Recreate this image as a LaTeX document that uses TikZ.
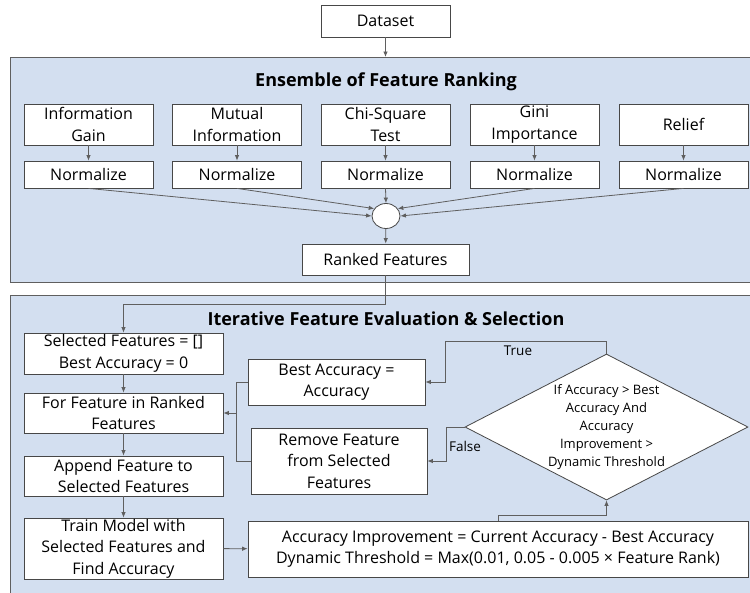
\documentclass[tikz,border=0pt]{standalone}
\usepackage{fontspec}
\setmainfont{Open Sans}
\usetikzlibrary{arrows.meta,shapes.geometric}
\definecolor{panelblue}{HTML}{D3DFF0}
\definecolor{edgegrey}{HTML}{5F5F5F}
\definecolor{boxgrey}{HTML}{474747}

\begin{document}
\begin{tikzpicture}[x=1pt,y=-1pt,
    box/.style={draw=boxgrey,fill=white,line width=0.8pt,inner sep=0pt,align=center,font=\fontsize{16}{21.5}\selectfont},
    panel/.style={draw=edgegrey,fill=panelblue,line width=0.9pt},
    arr/.style={draw=edgegrey,line width=0.8pt,-{Latex[length=5.5pt,width=4.5pt]}},
    line/.style={draw=edgegrey,line width=0.8pt},
    ttl/.style={font=\fontsize{18}{22}\selectfont\bfseries},
    lbl/.style={font=\fontsize{13.5}{16}\selectfont}]
    \clip (0,0) rectangle (750,592);
    \filldraw[panel] (10.5,57) rectangle (770,282);
    \filldraw[panel] (10.5,295) rectangle (770,610);
    \node[ttl] (ttlrank) at (386,82) {Ensemble of Feature Ranking};
    \node[ttl] (ttliter) at (386,319) {Iterative Feature Evaluation \& Selection};

    \node[box,minimum width=129pt,minimum height=32pt] (dataset) at (385.5,21) {Dataset};
    \coordinate (toprank) at (385.5,57);
    \draw[arr] (dataset) -- (toprank);

    \node[box,minimum width=129pt,minimum height=41pt] (infogain) at (88.5,124.5) {Information\\Gain};
    \node[box,minimum width=129pt,minimum height=41pt] (mutual) at (237,124.5) {Mutual\\Information};
    \node[box,minimum width=129pt,minimum height=41pt] (chisq) at (385.5,124.5) {Chi-Square\\Test};
    \node[box,minimum width=129pt,minimum height=41pt] (gini) at (534.5,124.5) {Gini\\Importance};
    \node[box,minimum width=129pt,minimum height=41pt] (relief) at (683.5,124.5) {Relief};
    \node[box,minimum width=129pt,minimum height=27pt] (norma) at (88.5,174.5) {Normalize};
    \node[box,minimum width=129pt,minimum height=27pt] (normb) at (237,174.5) {Normalize};
    \node[box,minimum width=129pt,minimum height=27pt] (normc) at (385.5,174.5) {Normalize};
    \node[box,minimum width=129pt,minimum height=27pt] (normd) at (534.5,174.5) {Normalize};
    \node[box,minimum width=129pt,minimum height=27pt] (norme) at (683.5,174.5) {Normalize};
    \draw[arr] (infogain) -- (norma);
    \draw[arr] (mutual) -- (normb);
    \draw[arr] (chisq) -- (normc);
    \draw[arr] (gini) -- (normd);
    \draw[arr] (relief) -- (norme);

    \node[ellipse,draw=boxgrey,fill=white,line width=0.8pt,minimum width=28pt,minimum height=25pt,inner sep=0pt] (combine) at (386,216) {};
    \draw[arr] (norma.south) -- (combine.180);
    \draw[arr] (normb.south) -- (combine.148);
    \draw[arr] (normc.south) -- (combine.north);
    \draw[arr] (normd.south) -- (combine.32);
    \draw[arr] (norme.south) -- (combine.0);
    \node[box,minimum width=167pt,minimum height=31pt] (ranked) at (385.5,259.5) {Ranked Features};
    \draw[arr] (combine) -- (ranked);

    \node[box,minimum width=199pt,minimum height=41pt] (selinit) at (123.5,353.5) {Selected Features = []\\Best Accuracy = 0};
    \node[box,minimum width=199pt,minimum height=40pt] (forfeat) at (123.5,413) {For Feature in Ranked\\Features};
    \node[box,minimum width=199pt,minimum height=40pt] (append) at (123.5,476) {Append Feature to\\Selected Features};
    \node[box,minimum width=199pt,minimum height=61pt] (train) at (123.5,548.5) {Train Model with\\Selected Features and\\Find Accuracy};
    \node[box,minimum width=177pt,minimum height=46pt] (bestacc) at (336.5,382) {Best Accuracy =\\Accuracy};
    \node[box,minimum width=176pt,minimum height=66pt] (remove) at (339,461) {Remove Feature\\from Selected\\Features};
    \node[box,minimum width=500pt,minimum height=56pt] (improve) at (498,549) {Accuracy Improvement = Current Accuracy - Best Accuracy\\Dynamic Threshold = Max(0.01, 0.05 - 0.005 × Feature Rank)};
    \node[diamond,draw=boxgrey,fill=white,line width=0.8pt,minimum width=283pt,minimum height=146pt,inner sep=-20pt,align=center,font=\fontsize{13}{17.8}\selectfont] (decide) at (606.5,427) {If Accuracy > Best\\Accuracy And\\Accuracy\\Improvement >\\Dynamic Threshold};

    \draw[arr] (ranked.south) -- ++(0,29) -| (selinit.north);
    \draw[arr] (selinit) -- (forfeat);
    \draw[arr] (forfeat) -- (append);
    \draw[arr] (append) -- (train);
    \draw[arr] (train) -- (improve);
    \draw[arr] (improve.north) -- ++(0,-5) -| (decide.south);
    \draw[arr] (decide.north) |- (445,341) |- (bestacc.east);
    \draw[arr] (decide.west) -- (446,427) |- (remove.east);
    \coordinate (merge) at (236,413);
    \draw[line] (bestacc.west) -| (merge);
    \draw[line] (remove.west) -| (merge);
    \draw[arr] (merge) -- (forfeat.east);
    \node[lbl] (truelbl) at (518,351) {True};
    \node[lbl] (falselbl) at (465,446) {False};
\end{tikzpicture}
\end{document}
